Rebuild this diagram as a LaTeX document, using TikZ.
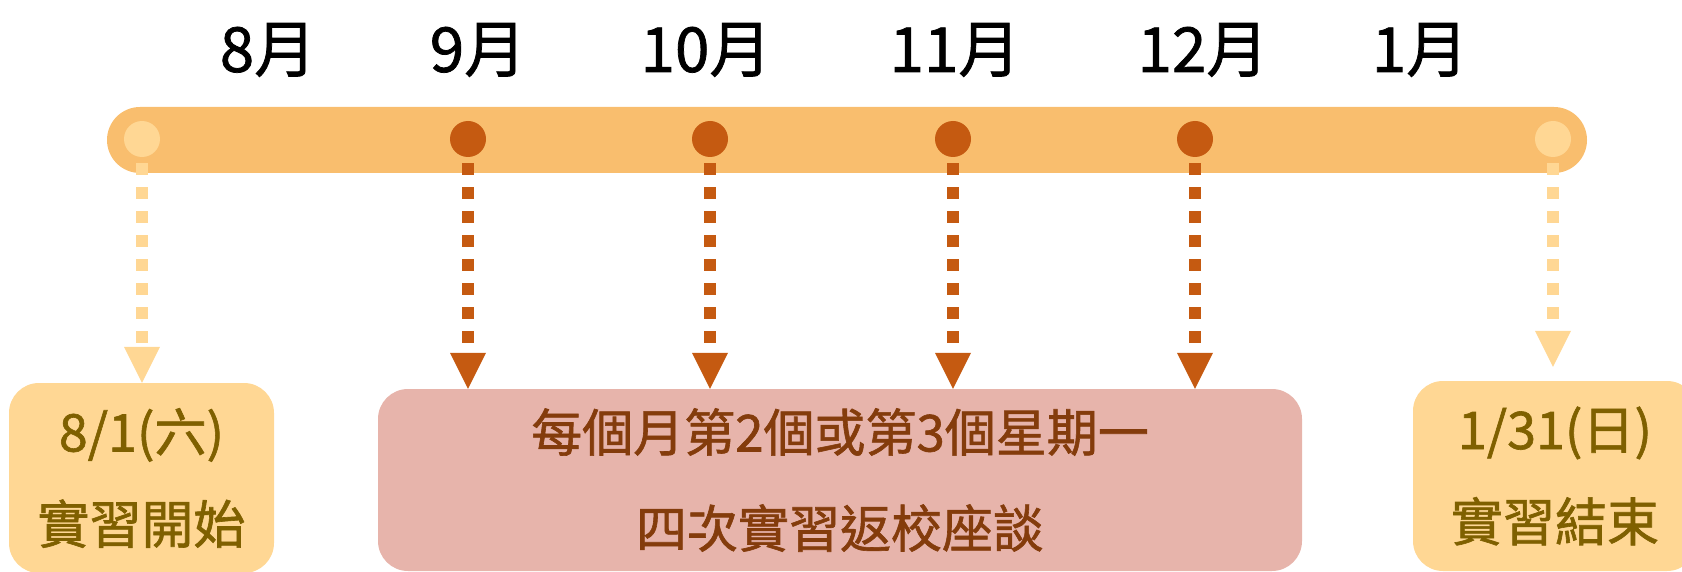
\documentclass[tikz,border=0pt]{standalone}
\usepackage{fontspec}
\setmainfont{Noto Sans CJK TC}
\newfontfamily\heavyfont{Noto Sans CJK TC}[FakeBold=1.2]
\usetikzlibrary{arrows.meta, positioning}

\definecolor{barorange}{HTML}{F9BE6E}
\definecolor{lightgold}{HTML}{FFD794}
\definecolor{darkorange}{HTML}{C55A11}
\definecolor{talkpink}{HTML}{E7B4AB}
\definecolor{goldtext}{HTML}{7F6000}
\definecolor{browntext}{HTML}{843C0C}

\begin{document}
\begin{tikzpicture}[x=1pt, y=-1pt,
    month/.style={font=\heavyfont\fontsize{62}{70}\selectfont, inner sep=0pt},
    lightdot/.style={circle, fill=lightgold, inner sep=0pt, minimum size=36pt},
    darkdot/.style={circle, fill=darkorange, inner sep=0pt, minimum size=36pt},
    datebox/.style={rounded corners=30pt, fill=lightgold, text=goldtext, align=center,
        inner sep=0pt, font=\heavyfont\fontsize{52}{92}\selectfont},
    talkbox/.style={rounded corners=30pt, fill=talkpink, text=browntext, align=center,
        inner sep=0pt, font=\heavyfont\fontsize{51}{96}\selectfont},
    droparrow/.style={line width=12pt, dash pattern=on 12pt off 12pt, shorten <=6pt,
        -{Triangle[length=36pt, width=36pt, line width=0pt]}}]
    \useasboundingbox (0,0) rectangle (1682,572);
    \clip (0,0) rectangle (1682,572);
    % month labels
    \node[month] (m8) at (268,50) {8月};
    \node[month] (m9) at (478,50) {9月};
    \node[month] (m10) at (706,50) {10月};
    \node[month] (m11) at (955,50) {11月};
    \node[month] (m12) at (1203,50) {12月};
    \node[month] (m1) at (1420,50) {1月};
    % time bar
    \node[fill=barorange, rounded corners=33pt, minimum width=1480pt, minimum height=66pt,
        inner sep=0pt] (bar) at (847,140) {};
    \node[lightdot] (d8) at (142,139) {};
    \node[darkdot] (d9) at (468,139) {};
    \node[darkdot] (d10) at (710,139) {};
    \node[darkdot] (d11) at (953,139) {};
    \node[darkdot] (d12) at (1195,139) {};
    \node[lightdot] (d1) at (1553,139) {};
    % boxes
    \node[datebox, minimum width=265pt, minimum height=190pt] (start) at (141.5,478)
        {8/1(六)\\實習開始};
    \node[talkbox, minimum width=924pt, minimum height=182pt] (talk) at (840,480)
        {每個月第2個或第3個星期一\\四次實習返校座談};
    \node[datebox, minimum width=284pt, minimum height=190pt] (finish) at (1555,476)
        {1/31(日)\\實習結束};
    % arrows
    \draw[droparrow, lightgold] (d8) -- (d8 |- start.north);
    \draw[droparrow, darkorange] (d9) -- (d9 |- talk.north);
    \draw[droparrow, darkorange] (d10) -- (d10 |- talk.north);
    \draw[droparrow, darkorange] (d11) -- (d11 |- talk.north);
    \draw[droparrow, darkorange] (d12) -- (d12 |- talk.north);
    \draw[droparrow, lightgold, shorten >=14pt] (d1) -- (d1 |- finish.north);
\end{tikzpicture}
\end{document}
